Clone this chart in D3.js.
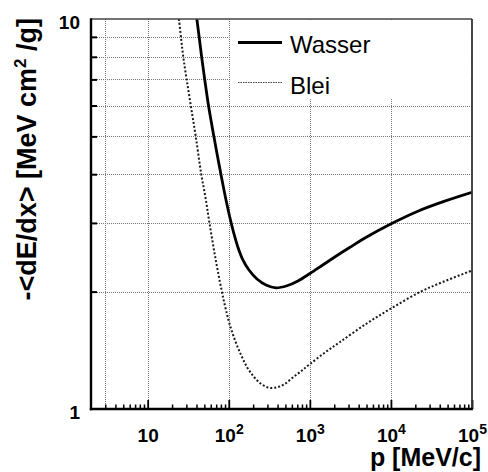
<!DOCTYPE html>
<html>
<head>
<meta charset="utf-8">
<script src="https://cdn.jsdelivr.net/npm/d3@7"></script>
<style>
  html, body { margin: 0; padding: 0; background: #fff; }
  svg { display: block; }
  text { font-family: "Liberation Sans", Arial, Helvetica, sans-serif; fill: #000; }
</style>
</head>
<body>
<svg id="chart" width="488" height="472"></svg>
<script>
// Mean energy loss of muons, -<dE/dx> in MeV cm^2/g, versus momentum p in MeV/c
const wasserP    = [40.4, 43.3, 46.3, 50.4, 56.4, 65.4, 79.8, 92.5, 103.6, 114.4, 128.2, 147.7, 177.7, 223, 288, 382,
                    523, 714, 1005, 1413, 1986, 3129, 5027, 9938, 20800, 44260, 100000];
const wasserDEdx = [10, 8.94, 7.99, 7.02, 5.98, 5.01, 4.01, 3.435, 3.089, 2.843, 2.618, 2.424, 2.272, 2.154, 2.079, 2.045,
                    2.07, 2.129, 2.226, 2.333, 2.446, 2.598, 2.761, 2.981, 3.206, 3.401, 3.594];

const bleiP      = [24.3, 25.8, 27.5, 30.2, 34.1, 39.1, 45.7, 51.7, 57.5, 67.7, 81.4, 91.2, 102, 119, 142, 168,
                    202, 243, 305, 382, 480, 629, 800, 1005, 1538, 2355, 5027, 10020, 22840, 44260, 100000];
const bleiDEdx   = [10, 8.94, 7.99, 7.02, 5.98, 5.01, 4.01, 3.48, 3.02, 2.47, 2.02, 1.815, 1.657, 1.503, 1.375, 1.281,
                    1.212, 1.166, 1.135, 1.135, 1.156, 1.208, 1.255, 1.304, 1.396, 1.485, 1.657, 1.810, 1.995, 2.12, 2.265];

const seriesNames = ["Wasser", "Blei"];

// Axis ticks
const xMajorTicks = [10, 100, 1000, 10000, 100000];
const xMinorTicks = [3,4,5,6,7,8,9, 20,30,40,50,60,70,80,90, 200,300,400,500,600,700,800,900,
                     2000,3000,4000,5000,6000,7000,8000,9000, 20000,30000,40000,50000,60000,70000,80000,90000];
const xGridTicks  = [3, 10, 100, 1000, 10000];
const xTickExponents = ["", "2", "3", "4", "5"];
const yLabelTicks = [1, 10];
const yMinorTicks = [2,3,4,5,6,7,8,9];

const svg = d3.select("#chart");
const plotLeft = 91, plotRight = 472, plotTop = 19, plotBottom = 409;

const x = d3.scaleLog().domain([2, 1e5]).range([plotLeft, plotRight]);
const y = d3.scaleLog().domain([1, 10]).range([plotBottom, plotTop]);

svg.append("rect").attr("width", 488).attr("height", 472).attr("fill", "#fff");

// grid
const grid = svg.append("g").attr("stroke", "#777").attr("stroke-width", 1).attr("stroke-dasharray", "1,1");
grid.selectAll("line.gx").data(xGridTicks).join("line").attr("class", "gx")
  .attr("x1", d => Math.round(x(d)) + 0.5).attr("x2", d => Math.round(x(d)) + 0.5)
  .attr("y1", plotTop).attr("y2", plotBottom);
grid.selectAll("line.gy").data(yMinorTicks).join("line").attr("class", "gy")
  .attr("x1", plotLeft).attr("x2", plotRight)
  .attr("y1", d => Math.round(y(d)) + 0.5).attr("y2", d => Math.round(y(d)) + 0.5);

// legend background
svg.append("rect").attr("x", 231).attr("y", plotTop + 1).attr("width", plotRight - 232).attr("height", 79).attr("fill", "#fff");

// curves
svg.append("clipPath").attr("id", "plotClip")
  .append("rect").attr("x", plotLeft).attr("y", plotTop).attr("width", plotRight - plotLeft).attr("height", plotBottom - plotTop);

const line = d3.line().x(d => x(d[0])).y(d => y(d[1])).curve(d3.curveCatmullRom.alpha(0.5));
const wasser = wasserP.map((p, i) => [p, wasserDEdx[i]]);
const blei = bleiP.map((p, i) => [p, bleiDEdx[i]]);

const curves = svg.append("g").attr("clip-path", "url(#plotClip)").attr("fill", "none");
curves.append("path").attr("d", line(blei)).attr("stroke", "#1a1a1a").attr("stroke-width", 2).attr("stroke-dasharray", "2,2");
curves.append("path").attr("d", line(wasser)).attr("stroke", "#000").attr("stroke-width", 2.8);

// axes: ticks point inward
const xMinor = svg.append("g").attr("transform", `translate(0,${plotBottom})`)
  .call(d3.axisBottom(x).tickValues(xMinorTicks).tickSize(-4.5).tickFormat(""));
xMinor.select(".domain").remove();
xMinor.selectAll(".tick line").attr("stroke", "#000").attr("stroke-width", 1.5);

const xMajor = svg.append("g").attr("transform", `translate(0,${plotBottom})`)
  .call(d3.axisBottom(x).tickValues(xMajorTicks).tickSize(-9).tickPadding(20).tickFormat(() => "10"));
xMajor.select(".domain").remove();
xMajor.selectAll(".tick line").attr("stroke", "#000").attr("stroke-width", 1.8);
xMajor.selectAll(".tick text")
  .attr("font-size", 19).attr("font-weight", "bold").attr("fill", "#000")
  .attr("font-family", "Liberation Sans, Arial, sans-serif")
  .each(function(d, i) {
    const exp = xTickExponents[i];
    if (exp) {
      d3.select(this).append("tspan").attr("dy", "-8").attr("font-size", 14).text(exp);
    }
  });

const yMinor = svg.append("g").attr("transform", `translate(${plotLeft},0)`)
  .call(d3.axisLeft(y).tickValues(yMinorTicks).tickSize(-6).tickFormat(""));
yMinor.select(".domain").remove();
yMinor.selectAll(".tick line").attr("stroke", "#000").attr("stroke-width", 2);

const yMajor = svg.append("g").attr("transform", `translate(${plotLeft},0)`)
  .call(d3.axisLeft(y).tickValues(yLabelTicks).tickSize(0).tickPadding(11).tickFormat(d3.format("d")));
yMajor.select(".domain").remove();
yMajor.selectAll(".tick text")
  .attr("font-size", 19).attr("font-weight", "bold").attr("fill", "#000").attr("dy", "0.5em")
  .attr("font-family", "Liberation Sans, Arial, sans-serif");

// frame
svg.append("line").attr("x1", plotLeft).attr("x2", plotRight).attr("y1", plotTop).attr("y2", plotTop).attr("stroke", "#444").attr("stroke-width", 1.6);
svg.append("line").attr("x1", plotRight).attr("x2", plotRight).attr("y1", plotTop).attr("y2", plotBottom).attr("stroke", "#333").attr("stroke-width", 1.8);
svg.append("line").attr("x1", plotLeft).attr("x2", plotLeft).attr("y1", plotTop - 0.8).attr("y2", plotBottom + 1.2).attr("stroke", "#000").attr("stroke-width", 2.4);
svg.append("line").attr("x1", plotLeft - 1.2).attr("x2", plotRight + 0.9).attr("y1", plotBottom).attr("y2", plotBottom).attr("stroke", "#000").attr("stroke-width", 2.4);

// axis titles
svg.append("text").attr("x", 481).attr("y", 466).attr("text-anchor", "end")
  .attr("font-size", 25).attr("font-weight", "bold").text("p [MeV/c]");

const yTitle = svg.append("text").attr("transform", "translate(36,18) rotate(-90)")
  .attr("text-anchor", "end").attr("font-size", 27).attr("font-weight", "bold");
yTitle.append("tspan").text("-<dE/dx> [MeV cm");
yTitle.append("tspan").attr("dy", -10).attr("font-size", 17).text("2");
yTitle.append("tspan").attr("dy", 10).text(" /g]");

// legend
const legend = svg.append("g");
legend.append("line").attr("x1", 238).attr("x2", 282).attr("y1", 42.5).attr("y2", 42.5)
  .attr("stroke", "#000").attr("stroke-width", 3);
legend.append("line").attr("x1", 238).attr("x2", 282).attr("y1", 82.5).attr("y2", 82.5)
  .attr("stroke", "#444").attr("stroke-width", 1).attr("stroke-dasharray", "1.5,1");
legend.append("text").attr("x", 290).attr("y", 53).attr("font-size", 24).text(seriesNames[0]);
legend.append("text").attr("x", 290).attr("y", 94).attr("font-size", 24).text(seriesNames[1]);
</script>
</body>
</html>
